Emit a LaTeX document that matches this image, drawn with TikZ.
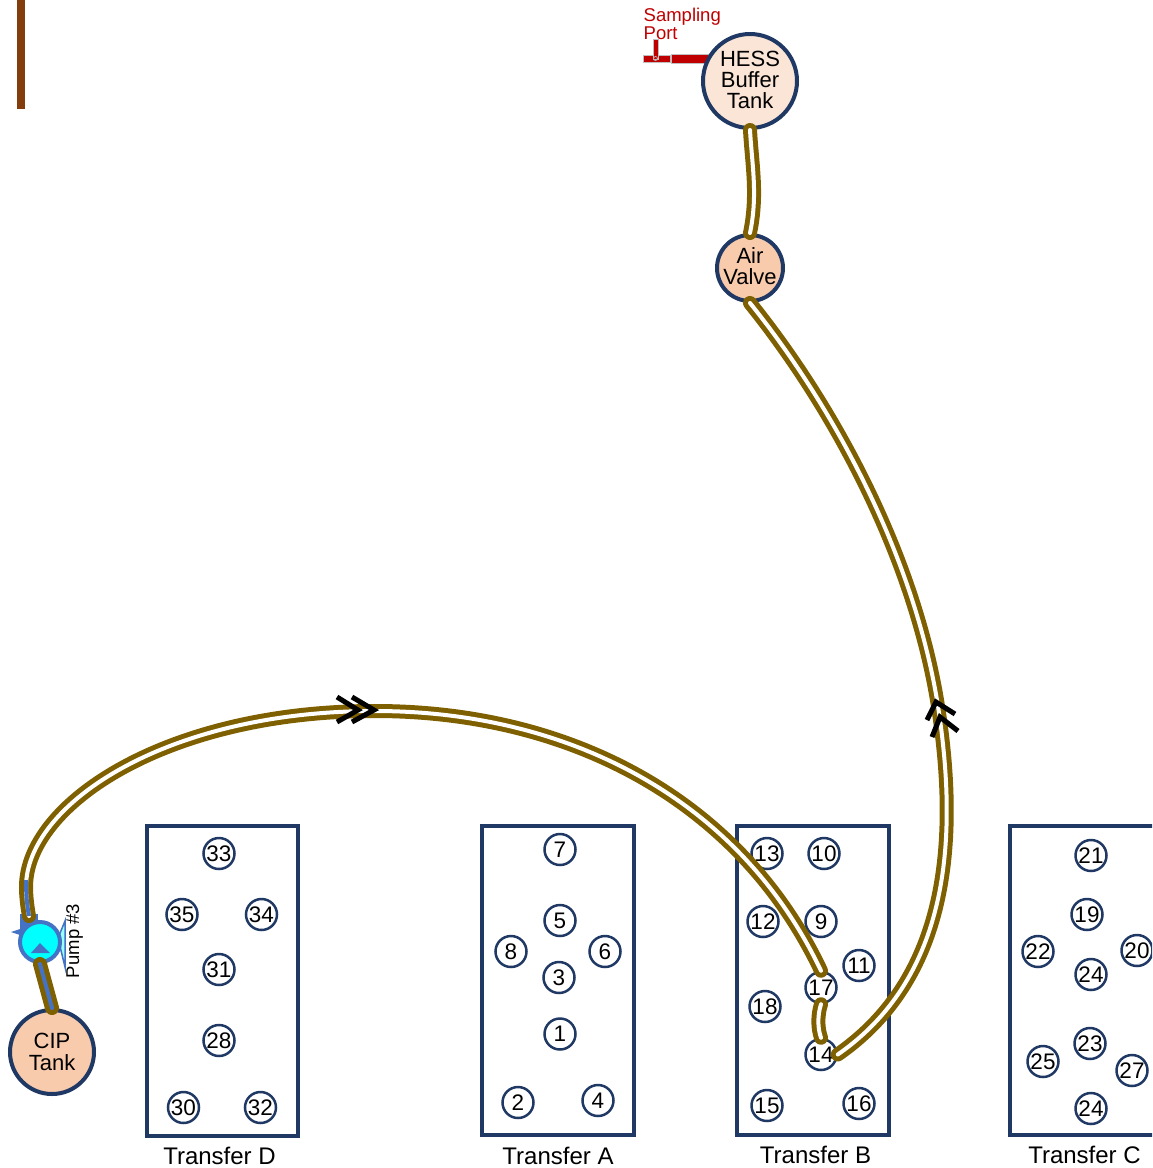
\documentclass[tikz,border=0pt]{standalone}
\usepackage{fontspec}
\setmainfont{Liberation Sans}
\definecolor{navy}{HTML}{1F3864}
\definecolor{pipebrown}{HTML}{7F6000}
\definecolor{peach}{HTML}{F8CBAD}
\definecolor{lightpeach}{HTML}{FBE5D6}
\definecolor{pumpblue}{HTML}{4472C4}
\definecolor{pumpcyan}{HTML}{00FFFF}
\definecolor{portred}{HTML}{C00000}
\definecolor{barbrown}{HTML}{843C0C}
\tikzset{
 numc/.style={circle,draw=navy,line width=2.5pt,fill=white,minimum size=31pt,inner sep=0pt,font=\fontsize{22.5}{22}\selectfont},
 tank/.style={circle,draw=navy,line width=4pt,inner sep=0pt},
 tanklabel/.style={inner sep=0pt,align=center,font=\fontsize{22}{21}\selectfont},
 xferbox/.style={draw=navy,line width=4pt,fill=none},
 xferlabel/.style={inner sep=0pt,font=\fontsize{24}{24}\selectfont},
 pipe/.style={draw=pipebrown,line cap=round,line width=5pt,double=white,double distance=4pt},
 bluepipe/.style={pipe,double=pumpblue},
 chev/.style={draw=black,line width=5pt,miter limit=10},
 portbar/.style={fill=portred,draw=black!25,line width=0.8pt}
}
\begin{document}
\begin{tikzpicture}[x=1pt,y=-1pt]
\useasboundingbox (0,0) rectangle (1152,1168);
\clip (0,0) rectangle (1152,1168);
% bar
\fill[barbrown] (17,0) rectangle (25,109);
% boxes
\draw[xferbox] (146.5,826) rectangle (298,1136);
\draw[xferbox] (482,826) rectangle (634,1135);
\draw[xferbox] (737,826) rectangle (889,1135);
\draw[xferbox] (1010,826) rectangle (1170,1135);
\node[xferlabel] (lD) at (219.5,1156) {Transfer D};
\node[xferlabel] (lA) at (558,1156) {Transfer A};
\node[xferlabel] (lB) at (815.5,1155) {Transfer B};
\node[xferlabel] (lC) at (1084.5,1155) {Transfer C};
% D
\node[numc] (n33) at (219,853.5) {33};
\node[numc] (n35) at (182,914.5) {35};
\node[numc] (n34) at (261.5,914.5) {34};
\node[numc] (n31) at (219,969.5) {31};
\node[numc] (n28) at (219,1040.5) {28};
\node[numc] (n30) at (183.5,1107.5) {30};
\node[numc] (n32) at (260.5,1107.5) {32};
% A
\node[numc] (n7) at (560,849.5) {7};
\node[numc] (n5) at (560,920.5) {5};
\node[numc] (n8) at (511,951.5) {8};
\node[numc] (n6) at (605,951.5) {6};
\node[numc] (n3) at (559,977.5) {3};
\node[numc] (n1) at (560,1034) {1};
\node[numc] (n2) at (518,1102.5) {2};
\node[numc] (n4) at (598,1100.5) {4};
% B
\node[numc] (n13) at (767,853.5) {13};
\node[numc] (n10) at (824,853.5) {10};
\node[numc] (n12) at (763,921.5) {12};
\node[numc] (n9) at (821,921.5) {9};
\node[numc] (n11) at (859,965.5) {11};
\node[numc] (n17) at (821,987.5) {17};
\node[numc] (n18) at (765,1006.5) {18};
\node[numc] (n14) at (821,1054.5) {14};
\node[numc] (n15) at (767,1105.5) {15};
\node[numc] (n16) at (859,1103.5) {16};
% C
\node[numc] (n21) at (1091,855.5) {21};
\node[numc] (n19) at (1087,914.5) {19};
\node[numc] (n22) at (1038,951.5) {22};
\node[numc] (n20) at (1137,950.5) {20};
\node[numc] (n24a) at (1091,974.5) {24};
\node[numc] (n23) at (1090,1043.5) {23};
\node[numc] (n25) at (1043,1061.5) {25};
\node[numc] (n27) at (1132,1070.5) {27};
\node[numc] (n24b) at (1091,1108.5) {24};
% sampling port
\node[anchor=north west,inner sep=0pt,align=left,text=portred,font=\fontsize{18.5}{16.5}\selectfont] (sp) at (643.5,8) {Sampling\\Port};
\path[portbar] (643,55) rectangle (670,62);
\path[portbar] (671,54) rectangle (708,63);
\path[portbar] (653,39) rectangle (658,59);
\draw[black!30,line width=0.8pt] (655.5,58.5) circle (2pt);
% tanks
\node[tank,fill=lightpeach,minimum size=94pt] (hess) at (750,81) {};
\node[tanklabel] (hesslabel) at (750,80) {HESS\\Buffer\\Tank};
\node[tank,fill=peach,minimum size=66pt] (air) at (750,268) {};
\node[tanklabel] (airlabel) at (750,266) {Air\\Valve};
\node[tank,fill=peach,minimum size=84pt] (cip) at (52,1052) {};
\node[tanklabel,font=\fontsize{22}{22}\selectfont] (ciplabel) at (52,1052) {CIP\\Tank};
% pump
\fill[pumpblue] (20,914) rectangle (38,930);
\fill[pumpblue] (11,932) -- (32,925) -- (32,939) -- cycle;
\draw[pumpblue,line width=1.5pt,fill=pumpcyan!40] (58,938) -- (65,921) -- (65,967) -- cycle;
\node[circle,draw=pumpblue,line width=4pt,fill=pumpcyan,minimum size=40pt,inner sep=0pt] (pump) at (40,942) {};
\fill[pumpblue] (40,943) -- (50,953) -- (31,953) -- cycle;
\node[rotate=90,inner sep=0pt,font=\fontsize{18.5}{18.5}\selectfont] (plabel) at (74.5,941) {Pump \#3};
\coordinate (pumpout) at (29,916);
% pipes
\draw[pipe] (hess.south) .. controls (752,165) and (758,195) .. (air.north);
\draw[pipe] (air.south) .. controls (840,415) and (920,570) .. (940,720) .. controls (958,850) and (945,980) .. (n14.east);
\draw[pipe] (pumpout) .. controls (27,905) and (26,895) .. (26,887) .. controls (26,805) and (165,711) .. (375,711) .. controls (570,711) and (740,800) .. (n17.north);
\draw[pipe] (n17.south) .. controls (817.5,1015) and (817.5,1028) .. (n14.north);
\draw[bluepipe] (cip.north) -- (pump.south);
\draw[pumpblue,line width=4pt] (pumpout) .. controls (27,905) and (26,895) .. (26,880);
% chevrons
\coordinate (ca1) at (337,697); \coordinate (ca2) at (358,710); \coordinate (ca3) at (337,722);
\coordinate (cb1) at (352,697); \coordinate (cb2) at (374,710); \coordinate (cb3) at (352,722);
\draw[chev] (ca1) -- (ca2) -- (ca3);
\draw[chev] (cb1) -- (cb2) -- (cb3);
\coordinate (cc1) at (927,720); \coordinate (cc2) at (936,702); \coordinate (cc3) at (955,714);
\coordinate (cd1) at (932,737); \coordinate (cd2) at (940,717); \coordinate (cd3) at (958,731);
\draw[chev] (cc1) -- (cc2) -- (cc3);
\draw[chev] (cd1) -- (cd2) -- (cd3);
\end{tikzpicture}
\end{document}
